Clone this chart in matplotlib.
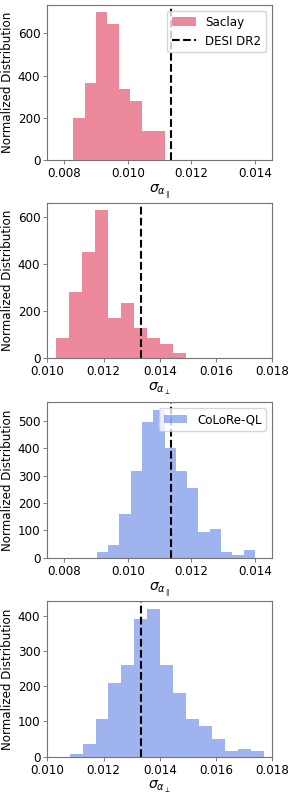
import numpy as np
import matplotlib
matplotlib.use("Agg")
import matplotlib.pyplot as plt

FONT_SIZE = 8.6
plt.rc('font', size=FONT_SIZE)

# bin edges / normalized heights
saclay_par_edges = np.linspace(0.00828, 0.011155, 9)
saclay_par_vals = [198, 365, 699, 642, 335, 280, 140, 140]

saclay_perp_edges = np.linspace(0.010321, 0.014929, 11)
saclay_perp_vals = [85, 282, 454, 630, 170, 237, 129, 85, 62, 21]

colore_par_edges = np.linspace(0.009015, 0.014004, 15)
colore_par_vals = [21, 46, 158, 317, 496, 541, 402, 317, 254, 95, 104, 21, 10, 27]

colore_perp_edges = np.linspace(0.010798, 0.017690, 16)
colore_perp_vals = [8, 37, 108, 210, 260, 390, 420, 260, 181, 108, 88, 51, 16, 23, 16]

desi_par = 0.01135
desi_perp = 0.01333

xlim_par = (0.007465, 0.014544)
xlim_perp = (0.010, 0.018)
xticks_par = [0.008, 0.010, 0.012, 0.014]
xticks_perp = [0.010, 0.012, 0.014, 0.016, 0.018]

panels = [
    (saclay_par_edges, saclay_par_vals, 'crimson', 'Saclay', desi_par, xlim_par, xticks_par, r'$\sigma_{\alpha_\parallel}$', True),
    (saclay_perp_edges, saclay_perp_vals, 'crimson', None, desi_perp, xlim_perp, xticks_perp, r'$\sigma_{\alpha_\perp}$', False),
    (colore_par_edges, colore_par_vals, 'royalblue', 'CoLoRe-QL', desi_par, xlim_par, xticks_par, r'$\sigma_{\alpha_\parallel}$', False),
    (colore_perp_edges, colore_perp_vals, 'royalblue', None, desi_perp, xlim_perp, xticks_perp, r'$\sigma_{\alpha_\perp}$', False),
]

bottoms = [0.7984, 0.5493, 0.2985, 0.0482]

fig = plt.figure(figsize=(2.95, 7.95), dpi=100)

for (edges, vals, color, label, desi, xlim, xticks, xlabel, desi_label), b in zip(panels, bottoms):
    ax = fig.add_axes([0.1603, b, 0.7627, 0.1955])
    ax.hist(edges[:-1], bins=edges, weights=vals, histtype='stepfilled',
            color=color, alpha=0.5, label=label)
    ax.axvline(desi, color='black', linestyle='--', linewidth=1.5,
               label='DESI DR2' if desi_label else None)
    ax.set_xlim(*xlim)
    ax.set_xticks(xticks)
    ax.xaxis.set_major_formatter(plt.FormatStrFormatter('%.3f'))
    ax.set_xlabel(xlabel, fontsize=FONT_SIZE + 1.5, labelpad=2)
    ax.set_ylabel('Normalized Distribution', fontsize=FONT_SIZE, labelpad=3)
    ax.tick_params(labelsize=FONT_SIZE, length=3, width=0.6, color='0.4', pad=2)
    for sp in ax.spines.values():
        sp.set_color('0.45')
        sp.set_linewidth(0.8)
    if label is not None:
        ax.legend(loc='upper right', fontsize=FONT_SIZE)

fig.savefig('out.png', dpi=100)
